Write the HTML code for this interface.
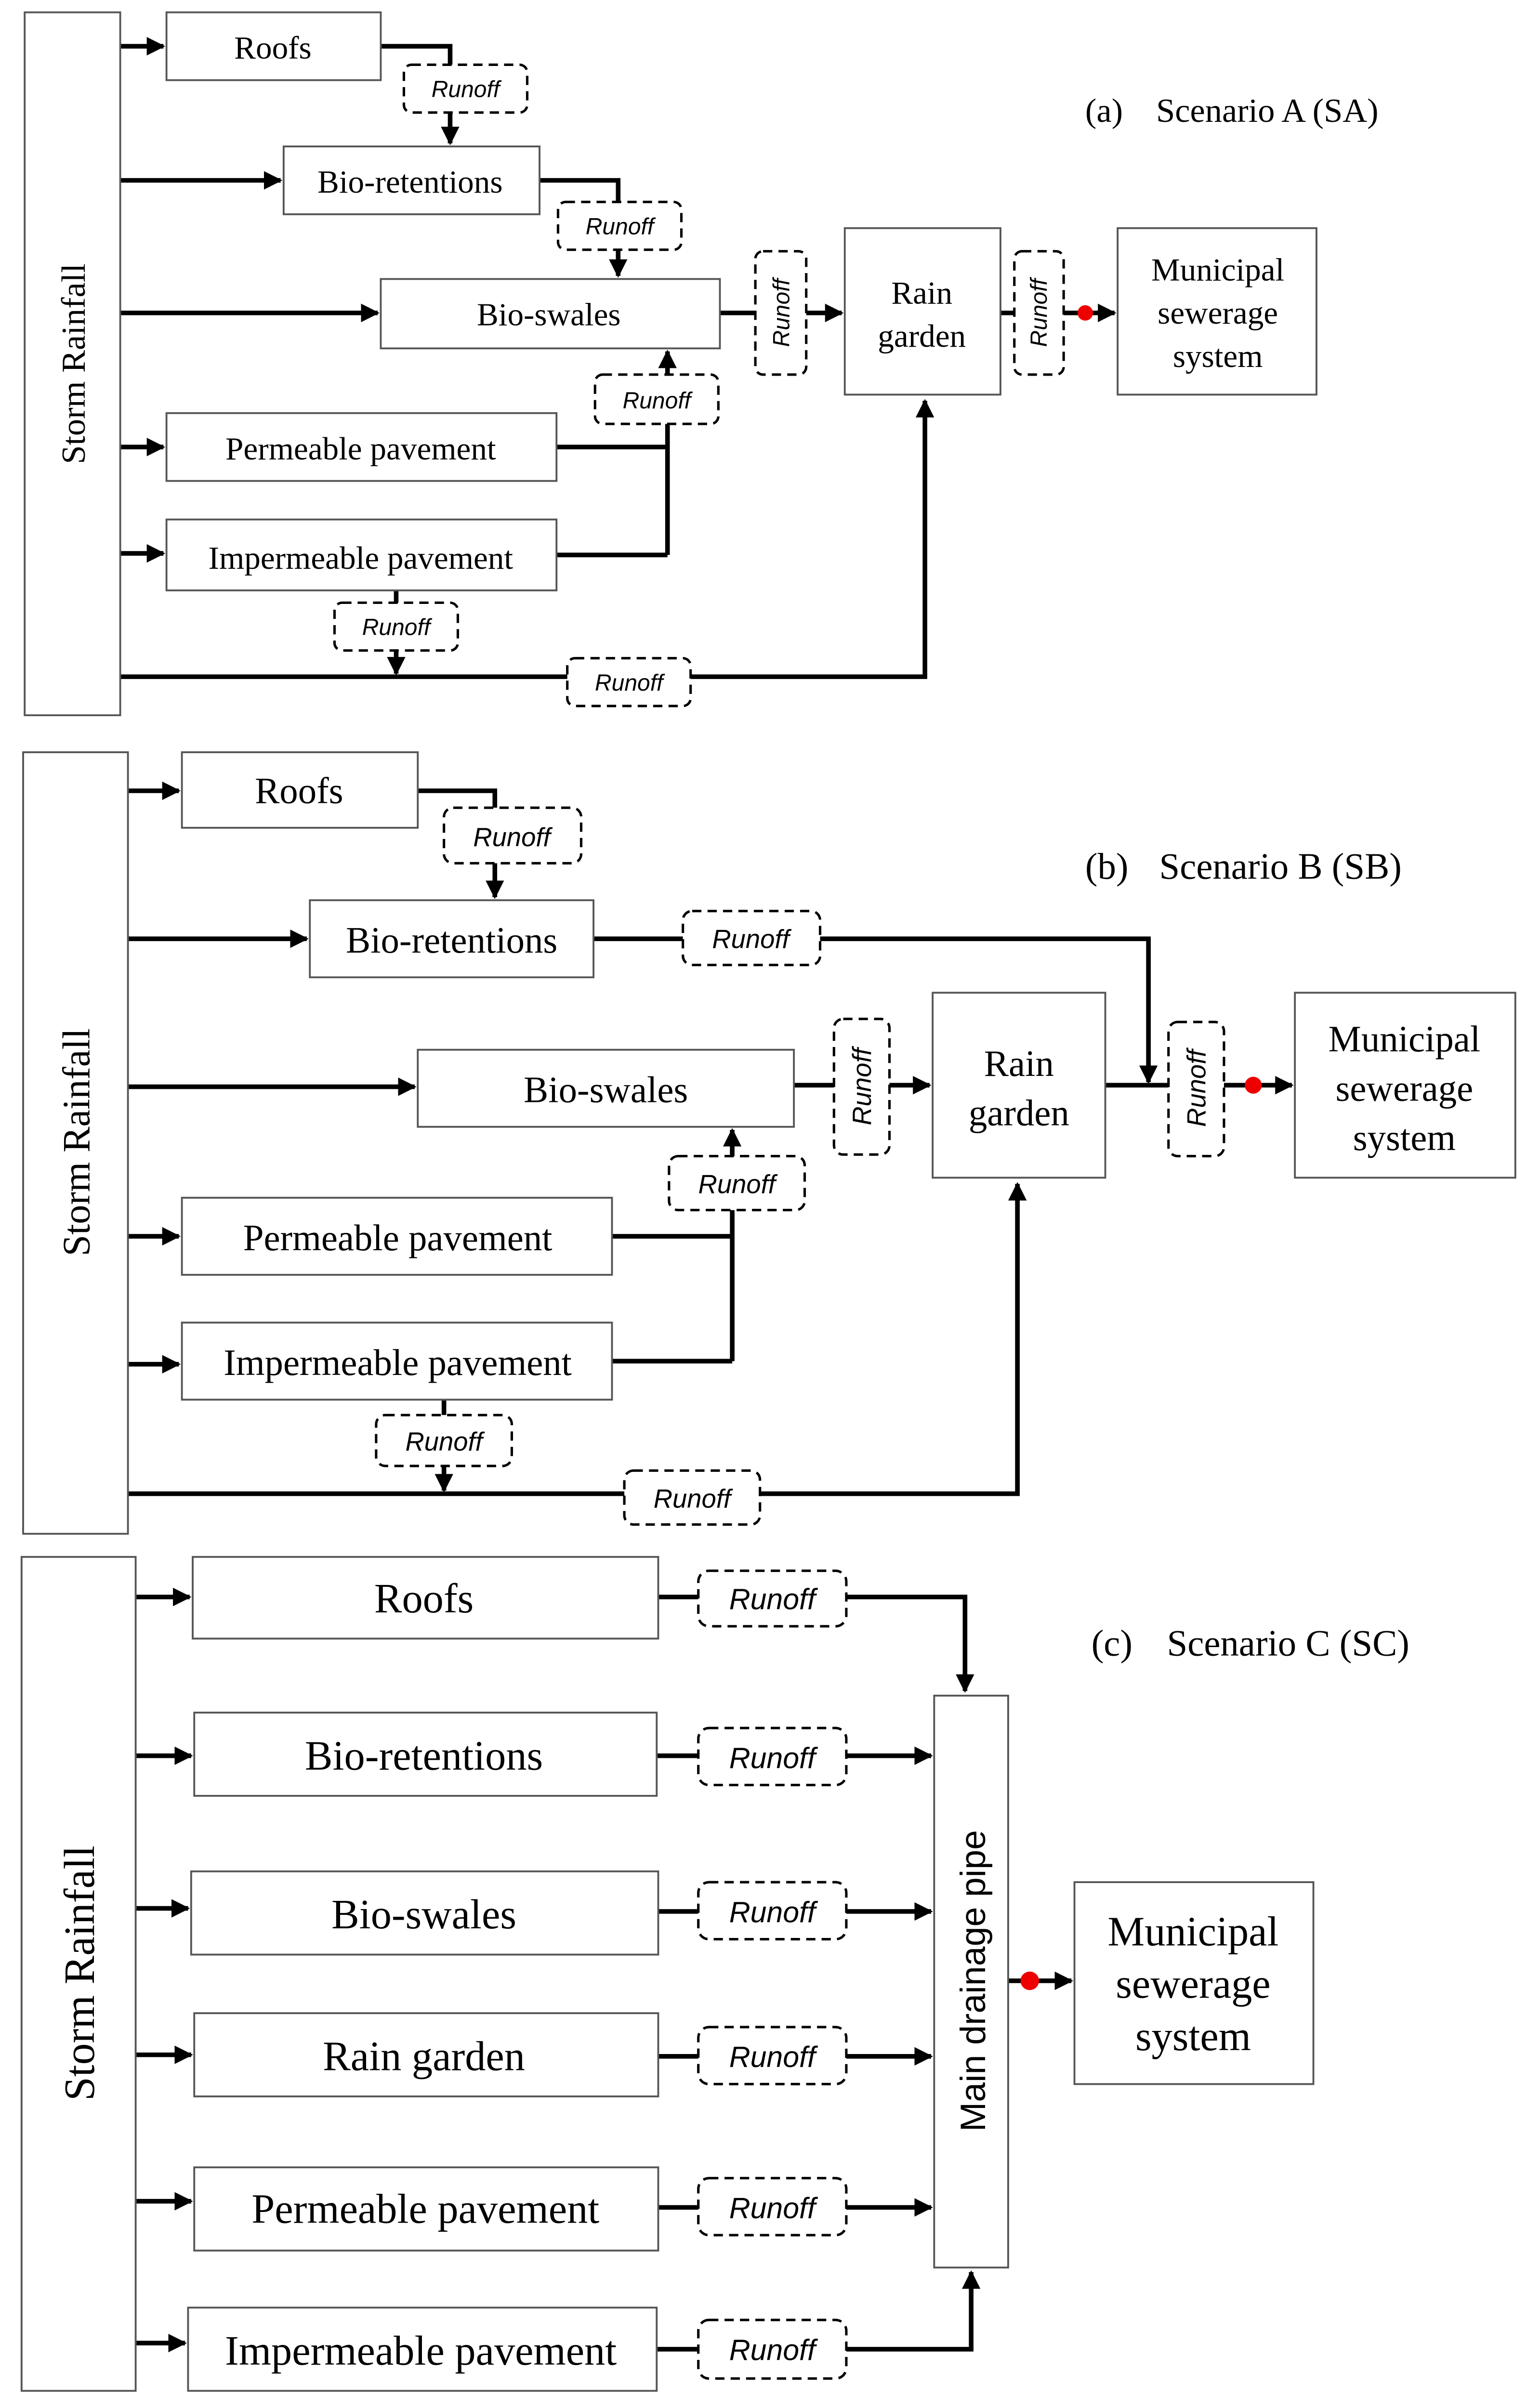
<!DOCTYPE html>
<html><head><meta charset="utf-8"><style>
html,body{margin:0;padding:0;background:#fff;width:3197px;height:5022px;overflow:hidden;}
svg{display:block;}
.b{fill:#fff;stroke:#555;stroke-width:1.2;}
.l{fill:none;stroke:#000;stroke-width:3;}
.d{fill:#fff;stroke:#000;stroke-width:1.6;stroke-dasharray:6,4;}
.t{font-family:"Liberation Serif",serif;text-anchor:middle;fill:#000;}
.s{font-family:"Liberation Serif",serif;fill:#000;}
.r{font-family:"Liberation Sans",sans-serif;font-style:italic;text-anchor:middle;fill:#000;}
</style></head><body>
<svg width="3197" height="5022" viewBox="0 0 999 1569" preserveAspectRatio="none" xmlns="http://www.w3.org/2000/svg">
<defs><marker id="a" viewBox="0 0 10 10" refX="9" refY="5" markerWidth="4" markerHeight="4" orient="auto"><path d="M0,0 L10,5 L0,10 z" fill="#000"/></marker></defs>
<rect width="999" height="1569" fill="#fff"/>

<!-- ===== Panel A ===== -->
<g>
<path class="l" d="M78,30H106" marker-end="url(#a)"/>
<path class="l" d="M78,117H182" marker-end="url(#a)"/>
<path class="l" d="M78,203H245" marker-end="url(#a)"/>
<path class="l" d="M78,290H106" marker-end="url(#a)"/>
<path class="l" d="M78,359H106" marker-end="url(#a)"/>
<path class="l" d="M247,30H292V42 M350,117H401V131 M433,275V360 M361,290H433 M361,360H433 M257,383V391 M467,203H490 M649,203H704"/>
<path class="l" d="M78,439H600V260" marker-end="url(#a)"/>
<path class="l" d="M292,73V93" marker-end="url(#a)"/>
<path class="l" d="M401,162V179" marker-end="url(#a)"/>
<path class="l" d="M433,243V228" marker-end="url(#a)"/>
<path class="l" d="M257,422V437" marker-end="url(#a)"/>
<path class="l" d="M523,203H546" marker-end="url(#a)"/>
<path class="l" d="M704,203H723" marker-end="url(#a)"/>
<rect class="b" x="16" y="8" width="62" height="456"/>
<text class="t" font-size="22" transform="translate(55,236) rotate(-90)">Storm Rainfall</text>
<rect class="b" x="108" y="8" width="139" height="44"/><text class="t" font-size="21" x="177" y="38">Roofs</text>
<rect class="b" x="184" y="95" width="166" height="44"/><text class="t" font-size="21" x="266" y="125">Bio-retentions</text>
<rect class="b" x="247" y="181" width="220" height="45"/><text class="t" font-size="21" x="356" y="211">Bio-swales</text>
<rect class="b" x="108" y="268" width="253" height="44"/><text class="t" font-size="21" x="234" y="298">Permeable pavement</text>
<rect class="b" x="108" y="337" width="253" height="46"/><text class="t" font-size="21" x="234" y="369">Impermeable pavement</text>
<rect class="b" x="548" y="148" width="101" height="108"/><text class="t" font-size="21" x="598" y="197">Rain</text><text class="t" font-size="21" x="598" y="225">garden</text>
<rect class="b" x="725" y="148" width="129" height="108"/><text class="t" font-size="21" x="790" y="182">Municipal</text><text class="t" font-size="21" x="790" y="210">sewerage</text><text class="t" font-size="21" x="790" y="238">system</text>
<rect class="d" x="262" y="42" width="80" height="31" rx="5"/><text class="r" font-size="15" x="302" y="63">Runoff</text>
<rect class="d" x="362" y="131" width="80" height="31" rx="5"/><text class="r" font-size="15" x="402" y="152">Runoff</text>
<rect class="d" x="386" y="243" width="80" height="32" rx="5"/><text class="r" font-size="15" x="426" y="265">Runoff</text>
<rect class="d" x="217" y="391" width="80" height="31" rx="5"/><text class="r" font-size="15" x="257" y="412">Runoff</text>
<rect class="d" x="368" y="427" width="80" height="31" rx="5"/><text class="r" font-size="15" x="408" y="448">Runoff</text>
<rect class="d" x="490" y="163" width="33" height="80" rx="5"/><text class="r" font-size="15" transform="translate(512,203) rotate(-90)">Runoff</text>
<rect class="d" x="658" y="163" width="32" height="80" rx="5"/><text class="r" font-size="15" transform="translate(679,203) rotate(-90)">Runoff</text>
<circle cx="704" cy="203" r="5" fill="#e00"/>
<text class="s" font-size="22" x="704" y="79">(a)</text><text class="s" font-size="22" x="750" y="79">Scenario A (SA)</text>
</g>

<!-- ===== Panel B ===== -->
<g>
<path class="l" d="M83,513H116" marker-end="url(#a)"/>
<path class="l" d="M83,609H199" marker-end="url(#a)"/>
<path class="l" d="M83,705H269" marker-end="url(#a)"/>
<path class="l" d="M83,802H116" marker-end="url(#a)"/>
<path class="l" d="M83,885H116" marker-end="url(#a)"/>
<path class="l" d="M271,513H321V524 M385,609H443 M475,785V883 M397,802H475 M397,883H475 M288,908V918 M515,704H541 M717,704H813"/>
<path class="l" d="M321,560V582" marker-end="url(#a)"/>
<path class="l" d="M532,609H745V702" marker-end="url(#a)"/>
<path class="l" d="M475,750V733" marker-end="url(#a)"/>
<path class="l" d="M288,951V967" marker-end="url(#a)"/>
<path class="l" d="M83,969H660V768" marker-end="url(#a)"/>
<path class="l" d="M577,704H603" marker-end="url(#a)"/>
<path class="l" d="M813,704H838" marker-end="url(#a)"/>
<rect class="b" x="15" y="488" width="68" height="507"/>
<text class="t" font-size="25" transform="translate(58,741) rotate(-90)">Storm Rainfall</text>
<rect class="b" x="118" y="488" width="153" height="49"/><text class="t" font-size="24" x="194" y="521">Roofs</text>
<rect class="b" x="201" y="584" width="184" height="50"/><text class="t" font-size="24" x="293" y="618">Bio-retentions</text>
<rect class="b" x="271" y="681" width="244" height="50"/><text class="t" font-size="24" x="393" y="715">Bio-swales</text>
<rect class="b" x="118" y="777" width="279" height="50"/><text class="t" font-size="24" x="258" y="811">Permeable pavement</text>
<rect class="b" x="118" y="858" width="279" height="50"/><text class="t" font-size="24" x="258" y="892">Impermeable pavement</text>
<rect class="b" x="605" y="644" width="112" height="120"/><text class="t" font-size="24" x="661" y="698">Rain</text><text class="t" font-size="24" x="661" y="730">garden</text>
<rect class="b" x="840" y="644" width="143" height="120"/><text class="t" font-size="24" x="911" y="682">Municipal</text><text class="t" font-size="24" x="911" y="714">sewerage</text><text class="t" font-size="24" x="911" y="746">system</text>
<rect class="d" x="288" y="524" width="89" height="36" rx="6"/><text class="r" font-size="17" x="332" y="549">Runoff</text>
<rect class="d" x="443" y="591" width="89" height="35" rx="6"/><text class="r" font-size="17" x="487" y="615">Runoff</text>
<rect class="d" x="434" y="750" width="88" height="35" rx="6"/><text class="r" font-size="17" x="478" y="774">Runoff</text>
<rect class="d" x="244" y="918" width="88" height="33" rx="6"/><text class="r" font-size="17" x="288" y="941">Runoff</text>
<rect class="d" x="405" y="954" width="88" height="35" rx="6"/><text class="r" font-size="17" x="449" y="978">Runoff</text>
<rect class="d" x="541" y="661" width="36" height="88" rx="6"/><text class="r" font-size="17" transform="translate(565,705) rotate(-90)">Runoff</text>
<rect class="d" x="758" y="663" width="36" height="87" rx="6"/><text class="r" font-size="17" transform="translate(782,706) rotate(-90)">Runoff</text>
<circle cx="813" cy="704" r="5.5" fill="#e00"/>
<text class="s" font-size="24" x="704" y="570">(b)</text><text class="s" font-size="24" x="752" y="570">Scenario B (SB)</text>
</g>

<!-- ===== Panel C ===== -->
<g>
<path class="l" d="M88,1036H123" marker-end="url(#a)"/>
<path class="l" d="M88,1139H124" marker-end="url(#a)"/>
<path class="l" d="M88,1238H122" marker-end="url(#a)"/>
<path class="l" d="M88,1333H124" marker-end="url(#a)"/>
<path class="l" d="M88,1428H124" marker-end="url(#a)"/>
<path class="l" d="M88,1520H120" marker-end="url(#a)"/>
<path class="l" d="M427,1036H453 M426,1139H453 M427,1240H453 M427,1334H453 M427,1432H453 M426,1524H453 M654,1285H668"/>
<path class="l" d="M549,1036H626V1097" marker-end="url(#a)"/>
<path class="l" d="M549,1524H630V1474" marker-end="url(#a)"/>
<path class="l" d="M549,1139H604" marker-end="url(#a)"/>
<path class="l" d="M549,1240H604" marker-end="url(#a)"/>
<path class="l" d="M549,1334H604" marker-end="url(#a)"/>
<path class="l" d="M549,1432H604" marker-end="url(#a)"/>
<path class="l" d="M668,1285H695" marker-end="url(#a)"/>
<rect class="b" x="14" y="1010" width="74" height="541"/>
<text class="t" font-size="28" transform="translate(61,1280) rotate(-90)">Storm Rainfall</text>
<rect class="b" x="125" y="1010" width="302" height="53"/><text class="t" font-size="27" x="275" y="1046">Roofs</text>
<rect class="b" x="126" y="1111" width="300" height="54"/><text class="t" font-size="27" x="275" y="1148">Bio-retentions</text>
<rect class="b" x="124" y="1214" width="303" height="54"/><text class="t" font-size="27" x="275" y="1251">Bio-swales</text>
<rect class="b" x="126" y="1306" width="301" height="54"/><text class="t" font-size="27" x="275" y="1343">Rain garden</text>
<rect class="b" x="126" y="1406" width="301" height="54"/><text class="t" font-size="27" x="276" y="1442">Permeable pavement</text>
<rect class="b" x="122" y="1497" width="304" height="54"/><text class="t" font-size="27" x="273" y="1534">Impermeable pavement</text>
<rect class="b" x="606" y="1100" width="48" height="371"/>
<text font-family="Liberation Sans,sans-serif" text-anchor="middle" font-size="23" transform="translate(639,1285) rotate(-90)">Main drainage pipe</text>
<rect class="b" x="697" y="1221" width="155" height="131"/><text class="t" font-size="27" x="774" y="1262">Municipal</text><text class="t" font-size="27" x="774" y="1296">sewerage</text><text class="t" font-size="27" x="774" y="1330">system</text>
<rect class="d" x="453" y="1019" width="96" height="36" rx="7"/><text class="r" font-size="19" x="501" y="1044">Runoff</text>
<rect class="d" x="453" y="1121" width="96" height="37" rx="7"/><text class="r" font-size="19" x="501" y="1147">Runoff</text>
<rect class="d" x="453" y="1221" width="96" height="37" rx="7"/><text class="r" font-size="19" x="501" y="1247">Runoff</text>
<rect class="d" x="453" y="1315" width="96" height="37" rx="7"/><text class="r" font-size="19" x="501" y="1341">Runoff</text>
<rect class="d" x="453" y="1413" width="96" height="37" rx="7"/><text class="r" font-size="19" x="501" y="1439">Runoff</text>
<rect class="d" x="453" y="1505" width="96" height="38" rx="7"/><text class="r" font-size="19" x="501" y="1531">Runoff</text>
<circle cx="668" cy="1285" r="6" fill="#e00"/>
<text class="s" font-size="24" x="708" y="1074">(c)</text><text class="s" font-size="24" x="757" y="1074">Scenario C (SC)</text>
</g>
</svg>
</body></html>
